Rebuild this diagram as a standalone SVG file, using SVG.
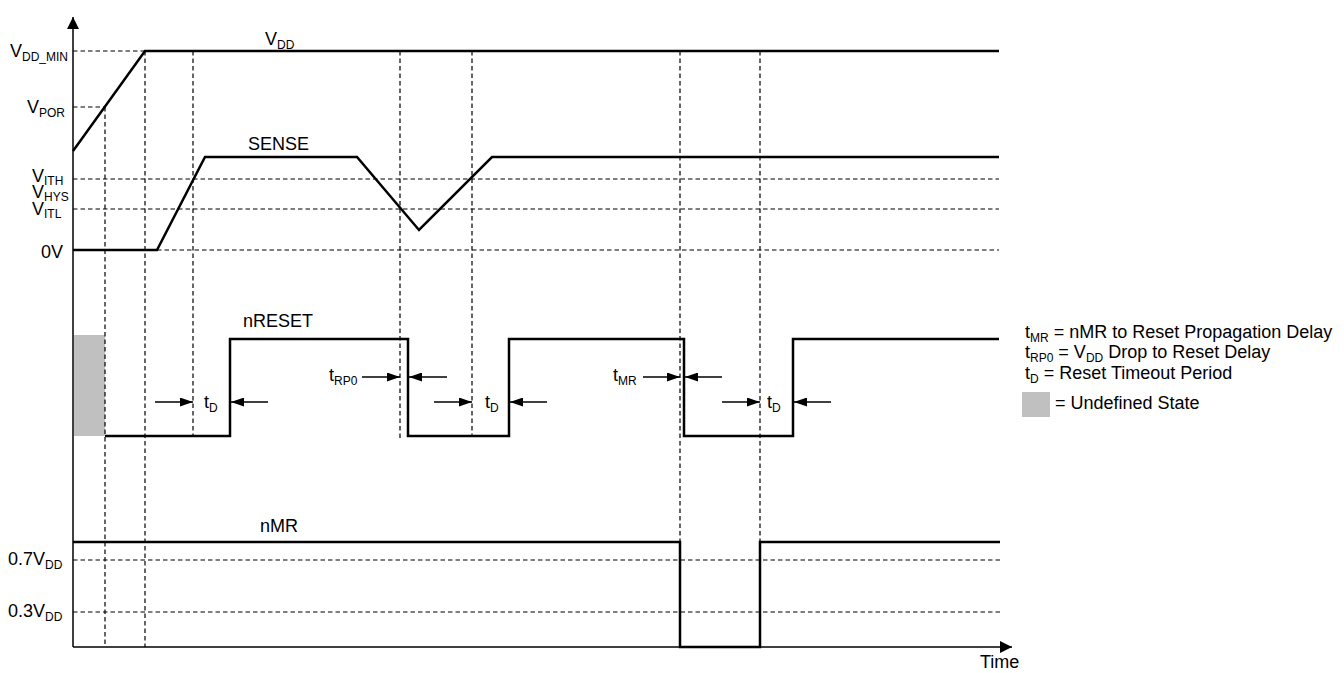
<svg xmlns="http://www.w3.org/2000/svg" width="1344" height="673" viewBox="0 0 1344 673">
<style>
text{font-family:"Liberation Sans",Arial,sans-serif;font-size:18px;fill:#000}
.s{font-size:12px}
.sig{fill:none;stroke:#000;stroke-width:2.5;stroke-linejoin:miter}
.d{fill:none;stroke:#000;stroke-width:1.2;stroke-dasharray:4.5,3}
.ax{fill:none;stroke:#000;stroke-width:1.5}
.ar{fill:none;stroke:#000;stroke-width:1.3}
</style>
<defs>
<marker id="ah" viewBox="0 0 13 9" refX="13" refY="4.5" markerWidth="13" markerHeight="9" markerUnits="userSpaceOnUse" orient="auto"><path d="M0,0L13,4.5L0,9z" fill="#000"/></marker>
<marker id="axh" viewBox="0 0 12 12" refX="12" refY="6" markerWidth="12" markerHeight="12" markerUnits="userSpaceOnUse" orient="auto"><path d="M0,0L12,6L0,12z" fill="#000"/></marker>
</defs>
<rect width="1344" height="673" fill="#fff"/>
<g id="undefined-state"><rect x="74" y="335" width="31" height="101" fill="#c0c0c0"/></g>
<g id="grid">
<path class="d" d="M73,51H145M73,107H105M73,179H999M73,209H999M157,250H999M73,560H1000M73,612H1000"/>
<path class="d" d="M105,107V647M145,51V647M193,51V437M400,51V440M472,51V437M680,51V647M760,51V647"/>
</g>
<g id="axes">
<path class="ax" d="M73,647V17" marker-end="url(#axh)"/>
<path class="ax" d="M73,647H1012" marker-end="url(#axh)"/>
<text x="980" y="668">Time</text>
</g>
<g id="labels">
<text x="10" y="57">V<tspan class="s" dy="4">DD_MIN</tspan></text>
<text x="27" y="113">V<tspan class="s" dy="4">POR</tspan></text>
<text x="32" y="182">V<tspan class="s" dy="3">ITH</tspan></text>
<text x="32" y="198">V<tspan class="s" dy="3">HYS</tspan></text>
<text x="32" y="215">V<tspan class="s" dy="3">ITL</tspan></text>
<text x="41" y="258">0V</text>
<text x="8" y="565">0.7V<tspan class="s" dy="4">DD</tspan></text>
<text x="8" y="617">0.3V<tspan class="s" dy="4">DD</tspan></text>
</g>
<g id="vdd">
<path class="sig" d="M73,151L145,51H999"/>
<text x="265" y="45">V<tspan class="s" dy="4">DD</tspan></text>
</g>
<g id="sense">
<path class="sig" d="M73,250H157L205,157H357L419,230L492,157H999"/>
<text x="248" y="150">SENSE</text>
</g>
<g id="nreset">
<path class="sig" d="M105,436H230V339H408V436H509V339H684V436H793V339H999"/>
<text x="243" y="327">nRESET</text>
</g>
<g id="nmr">
<path class="sig" d="M73,542H680V647H760V542H1000"/>
<text x="260" y="532">nMR</text>
</g>
<g id="timing-arrows">
<path class="ar" d="M155,402H193" marker-end="url(#ah)"/>
<path class="ar" d="M268,402H231" marker-end="url(#ah)"/>
<text x="204" y="408">t<tspan class="s" dy="4">D</tspan></text>
<path class="ar" d="M362,377H400" marker-end="url(#ah)"/>
<path class="ar" d="M447,377H409" marker-end="url(#ah)"/>
<text x="329" y="381">t<tspan class="s" dy="4">RP0</tspan></text>
<path class="ar" d="M434,402H472" marker-end="url(#ah)"/>
<path class="ar" d="M547,402H510" marker-end="url(#ah)"/>
<text x="485" y="408">t<tspan class="s" dy="4">D</tspan></text>
<path class="ar" d="M643,377H680" marker-end="url(#ah)"/>
<path class="ar" d="M722,377H685" marker-end="url(#ah)"/>
<text x="613" y="381">t<tspan class="s" dy="4">MR</tspan></text>
<path class="ar" d="M722,402H760" marker-end="url(#ah)"/>
<path class="ar" d="M831,402H794" marker-end="url(#ah)"/>
<text x="767" y="408">t<tspan class="s" dy="4">D</tspan></text>
</g>
<g id="legend">
<text x="1025" y="338">t<tspan class="s" dy="4">MR</tspan><tspan dy="-4"> = nMR to Reset Propagation Delay</tspan></text>
<text x="1025" y="358">t<tspan class="s" dy="4">RP0</tspan><tspan dy="-4"> = V</tspan><tspan class="s" dy="4">DD</tspan><tspan dy="-4"> Drop to Reset Delay</tspan></text>
<text x="1025" y="379">t<tspan class="s" dy="4">D</tspan><tspan dy="-4"> = Reset Timeout Period</tspan></text>
<rect x="1022" y="392" width="28" height="25" fill="#c0c0c0"/>
<text x="1055" y="409">= Undefined State</text>
</g>
</svg>
